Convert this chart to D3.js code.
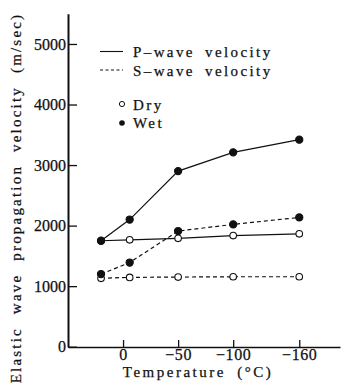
<!DOCTYPE html>
<html>
<head>
<meta charset="utf-8">
<script src="https://cdn.jsdelivr.net/npm/d3@7"></script>
<style>
  body { margin: 0; background: #fff; }
  svg, svg text { font-family: "Liberation Serif", "Times New Roman", Times, serif; }
  svg text { stroke: #111; stroke-width: 0.25px; }
</style>
</head>
<body>
<svg width="344" height="385"></svg>
<script>
// temperatures (°C) where the samples were measured
var temps = [20, -6, -50, -100, -160];

// velocities in m/sec
var pWet = [1750, 2100, 2900, 3210, 3420];
var pDry = [1750, 1765, 1790, 1835, 1865];
var sWet = [1200, 1390, 1910, 2020, 2135];
var sDry = [1130, 1145, 1150, 1155, 1155];

var yTicks = [0, 1000, 2000, 3000, 4000, 5000];
var xTicks = [0, -50, -100, -160];

var svg = d3.select('svg');
var ink = '#111';
var serif = '"Liberation Serif", "Times New Roman", Times, serif';

var scaleX = d3.scaleLinear().domain([50, -197]).range([68, 340]);
var scaleY = d3.scaleLinear().domain([0, 5500]).range([346.7, 13.7]);

// axes
var yAxis = svg.append('g')
    .attr('transform', 'translate(68,0)')
    .call(d3.axisLeft(scaleY).tickValues(yTicks).tickFormat(d3.format('d'))
        .tickSizeInner(-9).tickSizeOuter(0).tickPadding(2));
yAxis.attr('font-family', serif);
yAxis.select('.domain').attr('stroke', ink).attr('stroke-width', 2);
yAxis.selectAll('.tick line').attr('stroke', ink).attr('stroke-width', 1.3);
yAxis.selectAll('.tick text')
    .attr('fill', ink)
    .attr('font-size', 16)
    .attr('font-family', serif);

var xAxis = svg.append('g')
    .attr('transform', 'translate(0,347)')
    .call(d3.axisBottom(scaleX).tickValues(xTicks)
        .tickSizeInner(-7).tickSizeOuter(0).tickPadding(2));
xAxis.attr('font-family', serif);
xAxis.select('.domain').attr('stroke', ink).attr('stroke-width', 1.6);
xAxis.selectAll('.tick line').attr('stroke', ink).attr('stroke-width', 1.3);
xAxis.selectAll('.tick text')
    .attr('fill', ink)
    .attr('font-size', 16)
    .attr('font-family', serif)
    .attr('letter-spacing', 0.6);

// axis titles
svg.append('text')
    .attr('x', 198)
    .attr('y', 377)
    .attr('text-anchor', 'middle')
    .attr('font-size', 15)
    .attr('letter-spacing', 2.5)
    .attr('word-spacing', 5)
    .attr('fill', ink)
    .text('Temperature (°C)');

svg.append('text')
    .attr('transform', 'translate(21,198) rotate(-90)')
    .attr('text-anchor', 'middle')
    .attr('font-size', 15)
    .attr('letter-spacing', 2.2)
    .attr('word-spacing', 7)
    .attr('fill', ink)
    .text('Elastic wave propagation velocity (m/sec)');

// series lines
var line = d3.line()
    .x(function(d, i){ return scaleX(temps[i]); })
    .y(function(d){ return scaleY(d); });

var series = [
    {vals: sDry, dash: '4,3', filled: false},
    {vals: sWet, dash: '4,3', filled: true},
    {vals: pDry, dash: null, filled: false},
    {vals: pWet, dash: null, filled: true}
];

series.forEach(function(s){
    svg.append('path')
        .attr('d', line(s.vals))
        .attr('fill', 'none')
        .attr('stroke', ink)
        .attr('stroke-width', 1.2)
        .attr('stroke-dasharray', s.dash);
});

series.forEach(function(s){
    svg.selectAll(null)
        .data(s.vals)
        .enter()
        .append('circle')
        .attr('cx', function(d, i){ return scaleX(temps[i]); })
        .attr('cy', function(d){ return scaleY(d); })
        .attr('r', s.filled ? 3.6 : 3.3)
        .attr('fill', s.filled ? ink : '#fff')
        .attr('stroke', ink)
        .attr('stroke-width', 1.1);
});

// legend
var legend = svg.append('g');
legend.append('line')
    .attr('x1', 100).attr('x2', 123).attr('y1', 51.5).attr('y2', 51.5)
    .attr('stroke', ink).attr('stroke-width', 1.1);
legend.append('line')
    .attr('x1', 100).attr('x2', 123).attr('y1', 70).attr('y2', 70)
    .attr('stroke', ink).attr('stroke-width', 1.1)
    .attr('stroke-dasharray', '3,2.5');
legend.append('circle')
    .attr('cx', 122).attr('cy', 104).attr('r', 2.6)
    .attr('fill', '#fff').attr('stroke', ink).attr('stroke-width', 1);
legend.append('circle')
    .attr('cx', 122).attr('cy', 123).attr('r', 2.8)
    .attr('fill', ink);

var labels = [
    {t: 'P–wave velocity', y: 57},
    {t: 'S–wave velocity', y: 76},
    {t: 'Dry', y: 109.5},
    {t: 'Wet', y: 128}
];
legend.selectAll('text')
    .data(labels)
    .enter()
    .append('text')
    .attr('x', 133)
    .attr('y', function(d){ return d.y; })
    .attr('font-size', 15)
    .attr('letter-spacing', 2.4)
    .attr('word-spacing', 4)
    .attr('fill', ink)
    .text(function(d){ return d.t; });
</script>
</body>
</html>
